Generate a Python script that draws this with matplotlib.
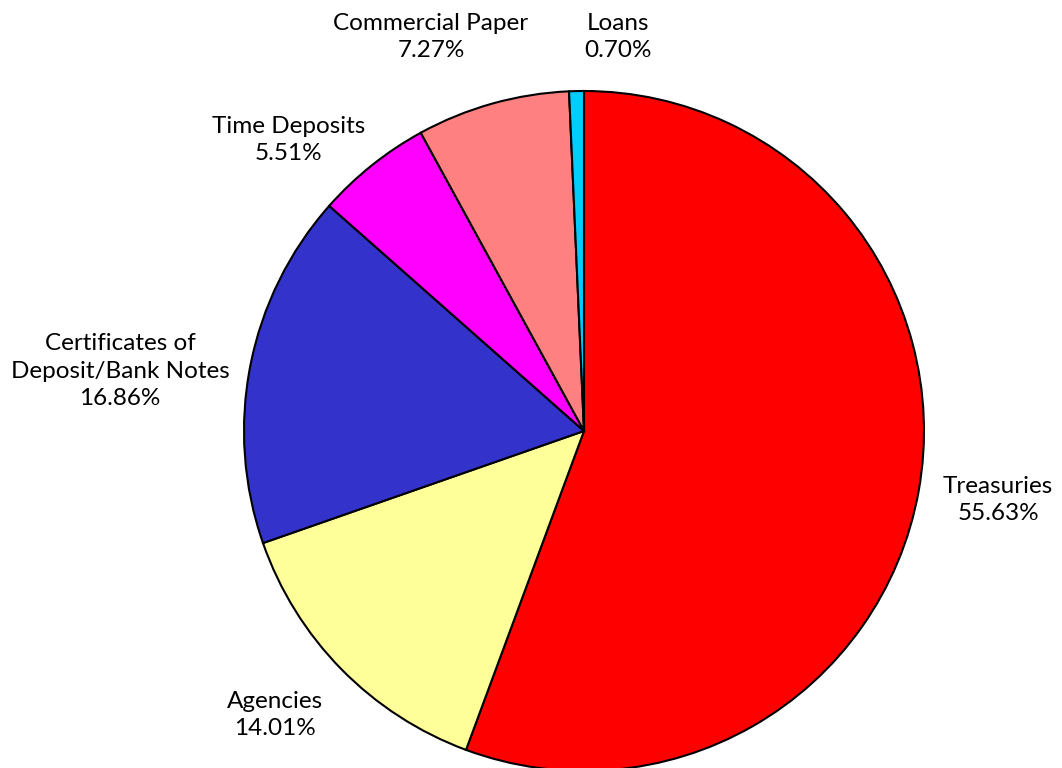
import matplotlib.pyplot as plt

categories = ['Treasuries', 'Agencies', 'Certificates of\nDeposit/Bank Notes',
              'Time Deposits', 'Commercial Paper', 'Loans']
shares = [55.63, 14.01, 16.86, 5.51, 7.27, 0.70]
colors = ['#FF0000', '#FFFF99', '#3333CC', '#FF00FF', '#FF8080', '#00CCFF']

# label centres in axes data units (pie radius = 1)
label_pos = [(1.218, -0.203), (-0.909, -0.835), (-1.365, 0.176),
             (-0.868, 0.856), (-0.45, 1.159), (0.10, 1.159)]


def main():
    plt.rcParams['font.family'] = ['Lato', 'DejaVu Sans']
    fig = plt.figure(figsize=(10.62, 7.68), dpi=100)
    ax = fig.add_axes([244 / 1062, -3 / 768, 680 / 1062, 680 / 768])
    ax.pie(shares, colors=colors, startangle=90, counterclock=False,
           radius=1, wedgeprops=dict(edgecolor='black', linewidth=1.5))
    ax.set_xlim(-1, 1)
    ax.set_ylim(-1, 1)
    ax.set_aspect('auto')
    ax.axis('off')
    for name, val, (x, y) in zip(categories, shares, label_pos):
        ax.text(x, y, f'{name}\n{val:.2f}%', ha='center', va='center',
                fontsize=17.5, linespacing=1.4, clip_on=False)
    fig.savefig('out.png', dpi=100)


if __name__ == '__main__':
    main()
